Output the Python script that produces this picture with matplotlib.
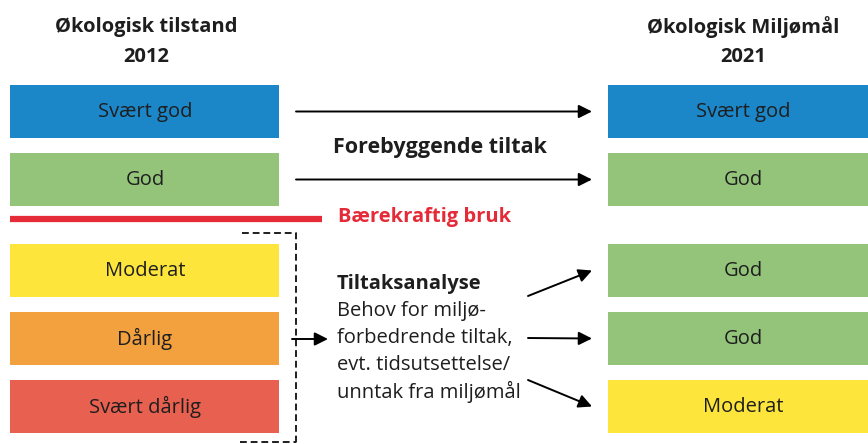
import matplotlib.pyplot as plt
from matplotlib.patches import Rectangle

plt.rcParams['font.family'] = ['Open Sans', 'DejaVu Sans']

# status classes 2012 (left) and goals 2021 (right)
left_labels = ['Svært god', 'God', 'Moderat', 'Dårlig', 'Svært dårlig']
right_labels = ['Svært god', 'God', 'God', 'God', 'Moderat']
class_colors = {
    'Svært god': '#1b87c9',
    'God': '#93c47a',
    'Moderat': '#fde53c',
    'Dårlig': '#f3a03e',
    'Svært dårlig': '#e8604f',
}
left_title = ['Økologisk tilstand', '2012']
right_title = ['Økologisk Miljømål', '2021']
mid_top = 'Forebyggende tiltak'
line_label = 'Bærekraftig bruk'
analysis_head = 'Tiltaksanalyse'
analysis_body = ['Behov for miljø-', 'forbedrende tiltak,', 'evt. tidsutsettelse/', 'unntak fra miljømål']

fig = plt.figure(figsize=(8.68, 4.44), dpi=100)
ax = fig.add_axes([0, 0, 1, 1])
ax.set_xlim(0, 868)
ax.set_ylim(444, 0)
ax.axis('off')

ink = '#1e1e1e'
fs = 14.5

# box rows (top edges), pixel coords
row_tops = [85, 153, 244, 312, 380]
box_h = 53

for top, lab in zip(row_tops, left_labels):
    ax.add_patch(Rectangle((10, top), 269, box_h, color=class_colors[lab], lw=0))
    ax.text(145, top + box_h / 2, lab, ha='center', va='center', fontsize=fs, color=ink)

for top, lab in zip(row_tops, right_labels):
    ax.add_patch(Rectangle((608, top), 262, box_h, color=class_colors[lab], lw=0))
    ax.text(743, top + box_h / 2, lab, ha='center', va='center', fontsize=fs, color=ink)

# column headings
for i in range(2):
    ax.text(146, 27 + i * 30, left_title[i], ha='center', va='center', fontsize=fs,
            fontweight='bold', color=ink)
    ax.text(743, 27 + i * 30, right_title[i], ha='center', va='center', fontsize=fs,
            fontweight='bold', color=ink)

arrow = dict(arrowstyle='-|>', color='black', lw=1.4, mutation_scale=20, shrinkA=0, shrinkB=0)

# preventive arrows
for top in row_tops[:2]:
    y = top + box_h / 2
    ax.annotate('', xy=(592, y), xytext=(296, y), arrowprops=arrow)
ax.text(440, 147, mid_top, ha='center', va='center', fontsize=15.5, fontweight='bold', color=ink)

# sustainable use line
ax.plot([10, 322], [219, 219], color='#e52b38', lw=4.5, solid_capstyle='butt')
ax.text(338, 217, line_label, ha='left', va='center', fontsize=fs, fontweight='bold', color='#e52b38')

# dashed bracket
dash = (0, (3.5, 2))
ax.plot([242, 296, 296], [233, 233, 444], color=ink, lw=1.4, ls=dash)
ax.plot([240, 296], [442, 442], color=ink, lw=1.4, ls=dash)
ax.annotate('', xy=(328, 339), xytext=(292, 339), arrowprops=arrow)

# analysis text
ax.text(337, 284, analysis_head, ha='left', va='center', fontsize=fs, fontweight='bold', color=ink)
for i, line in enumerate(analysis_body):
    ax.text(337, 311 + i * 27, line, ha='left', va='center', fontsize=fs, color=ink)

# analysis arrows
for top in row_tops[2:]:
    y = top + box_h / 2
    y0 = 296 + (y - 270.5) * (380 - 296) / (406.5 - 270.5)
    ax.annotate('', xy=(592, y), xytext=(528, y0), arrowprops=arrow)

fig.savefig('out.png', dpi=100)
